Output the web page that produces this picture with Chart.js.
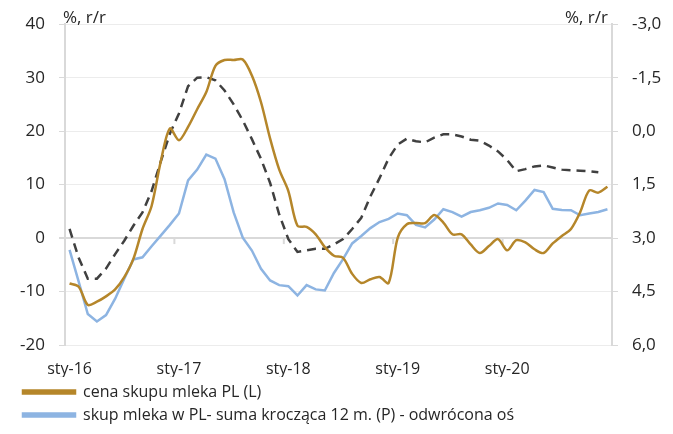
<!DOCTYPE html>
<html lang="pl">
<head>
    <meta charset="utf-8">
    <title>Cena i skup mleka w PL</title>
    <style>
        body{margin:0;background:#fff;}
        .wrap{width:673px;height:434px;}
    </style>
    <script src="https://cdn.jsdelivr.net/npm/chart.js@4/dist/chart.umd.min.js"></script>
</head>
<body>
    <div class="wrap"><canvas id="milkChart" width="673" height="434"></canvas></div>
    <script>
        // miesiace sty-16 .. gru-20
        const months = ['sty','lut','mar','kwi','maj','cze','lip','sie','wrz','paź','lis','gru'];
        const years = ['16','17','18','19','20'];
        const labels = [];
        years.forEach(y => months.forEach(m => labels.push(m + '-' + y)));

        // cena skupu mleka PL, % r/r (lewa os)
        const cenaSkupu = [
            -8.5, -9.1, -12.5, -11.9, -10.9, -9.6, -7.3, -3.9, 1.7, 6.0, 14.3, 20.5,
            18.3, 20.8, 24.1, 27.3, 32.2, 33.3, 33.3, 33.4, 30.4, 25.4, 18.6, 12.8,
            8.8, 2.3, 2.1, 0.7, -1.7, -3.3, -3.7, -6.7, -8.4, -7.7, -7.3, -8.4,
            0.1, 2.6, 2.8, 2.8, 4.3, 2.9, 0.7, 0.7, -1.2, -2.8, -1.5, -0.2,
            -2.3, -0.4, -0.8, -2.1, -2.8, -1.0, 0.4, 1.7, 4.8, 8.9, 8.5, 9.6
        ];
        // skup mleka w PL, suma kroczaca 12 m., % r/r (prawa os, odwrocona)
        const skupMleka = [
            3.33, 4.22, 5.13, 5.34, 5.16, 4.70, 4.14, 3.60, 3.54, 3.23, 2.93, 2.63,
            2.31, 1.38, 1.08, 0.66, 0.77, 1.35, 2.28, 2.99, 3.35, 3.86, 4.19, 4.32,
            4.35, 4.61, 4.32, 4.44, 4.47, 3.98, 3.59, 3.15, 2.94, 2.72, 2.55, 2.46,
            2.31, 2.36, 2.63, 2.70, 2.48, 2.19, 2.27, 2.40, 2.27, 2.22, 2.15, 2.03,
            2.07, 2.22, 1.95, 1.65, 1.71, 2.18, 2.21, 2.22, 2.36, 2.31, 2.27, 2.19
        ];
        // linia przerywana (bez legendy), lewa os
        const przerywana = [
            1.7, -3.7, -7.6, -7.6, -5.7, -3.0, -0.5, 2.3, 4.8, 8.8, 14.3, 19.5,
            23.3, 28.4, 30.0, 30.1, 29.5, 27.6, 25.0, 22.0, 18.5, 14.8, 10.3, 4.4,
            -0.2, -2.6, -2.3, -2.0, -2.0, -1.2, -0.2, 1.7, 3.8, 7.8, 11.2, 14.9,
            17.5, 18.6, 18.1, 17.9, 18.8, 19.4, 19.4, 19.0, 18.4, 18.2, 17.3, 16.2,
            14.6, 12.5, 12.9, 13.4, 13.6, 13.2, 12.8, 12.7, 12.6, 12.5, 12.3, null
        ];

        const FONT = "'Open Sans', sans-serif";
        const TXT = '#262626';

        const extras = {
            id: 'extras',
            beforeDatasetsDraw(chart) {
                const {ctx, scales: {x, y}} = chart;
                const y0 = y.getPixelForValue(0);
                ctx.save();
                ctx.strokeStyle = '#d9d9d9';
                ctx.lineWidth = 2;
                for (let i = 12; i < labels.length; i += 12) {
                    const px = x.getPixelForValue(i - 0.5);
                    ctx.beginPath();
                    ctx.moveTo(px, y0);
                    ctx.lineTo(px, y0 + 6);
                    ctx.stroke();
                }
                ctx.restore();
            },
            afterDraw(chart) {
                const {ctx, chartArea} = chart;
                ctx.save();
                ctx.font = '17px ' + FONT;
                ctx.fillStyle = TXT;
                ctx.textBaseline = 'middle';
                ctx.textAlign = 'left';
                ctx.fillText('%, r/r', chartArea.left - 2, chartArea.top - 6);
                ctx.textAlign = 'right';
                ctx.fillText('%, r/r', chartArea.right - 4, chartArea.top - 6);
                ctx.restore();
            }
        };

        new Chart(document.getElementById('milkChart').getContext('2d'), {
            type: 'line',
            data: {
                labels: labels,
                datasets: [
                    {
                        label: 'cena skupu mleka PL (L)',
                        data: cenaSkupu,
                        borderColor: '#B5862A',
                        backgroundColor: '#B5862A',
                        borderWidth: 2.5,
                        tension: 0.3,
                        pointRadius: 0,
                        yAxisID: 'y'
                    },
                    {
                        label: 'skup mleka w PL- suma krocząca 12 m. (P) - odwrócona oś',
                        data: skupMleka,
                        borderColor: '#8DB4E2',
                        backgroundColor: '#8DB4E2',
                        borderWidth: 2.5,
                        tension: 0,
                        pointRadius: 0,
                        yAxisID: 'y1'
                    },
                    {
                        label: 'bez legendy',
                        data: przerywana,
                        borderColor: '#404040',
                        backgroundColor: '#404040',
                        borderWidth: 2.5,
                        borderDash: [9, 6],
                        tension: 0,
                        pointRadius: 0,
                        yAxisID: 'y'
                    }
                ]
            },
            options: {
                responsive: false,
                animation: false,
                layout: {padding: {top: 21, left: 16, right: 0, bottom: 1}},
                plugins: {
                    tooltip: {enabled: false},
                    legend: {
                        position: 'bottom',
                        align: 'start',
                        labels: {
                            boxWidth: 52,
                            boxHeight: 3,
                            padding: 7,
                            color: TXT,
                            font: {family: FONT, size: 16},
                            filter: item => item.datasetIndex < 2
                        }
                    }
                },
                scales: {
                    x: {
                        offset: true,
                        grid: {display: false},
                        border: {display: false},
                        ticks: {
                            autoSkip: false,
                            maxRotation: 0,
                            padding: 7,
                            color: TXT,
                            font: {family: FONT, size: 16},
                            callback: (v, i) => i % 12 === 0 ? labels[i] : ''
                        },
                        afterFit: s => { s.height = 32; }
                    },
                    y: {
                        position: 'left',
                        min: -20,
                        max: 40,
                        ticks: {stepSize: 10, padding: 14, color: TXT, font: {family: FONT, size: 17}},
                        grid: {
                            color: c => c.tick && c.tick.value === 0 ? '#d9d9d9' : '#ececec',
                            lineWidth: c => c.tick && c.tick.value === 0 ? 2 : 1,
                            tickColor: '#d9d9d9',
                            tickLength: 6
                        },
                        border: {color: '#d9d9d9', width: 2},
                        afterFit: s => { s.width = 49; }
                    },
                    y1: {
                        position: 'right',
                        reverse: true,
                        min: -3,
                        max: 6,
                        ticks: {
                            stepSize: 1.5,
                            padding: 14,
                            color: TXT,
                            font: {family: FONT, size: 17},
                            callback: v => v.toFixed(1).replace('.', ',')
                        },
                        grid: {drawOnChartArea: false, color: '#d9d9d9', tickLength: 6},
                        border: {color: '#d9d9d9', width: 2},
                        afterFit: s => { s.width = 61; }
                    }
                }
            },
            plugins: [extras]
        });
    </script>
</body>
</html>
